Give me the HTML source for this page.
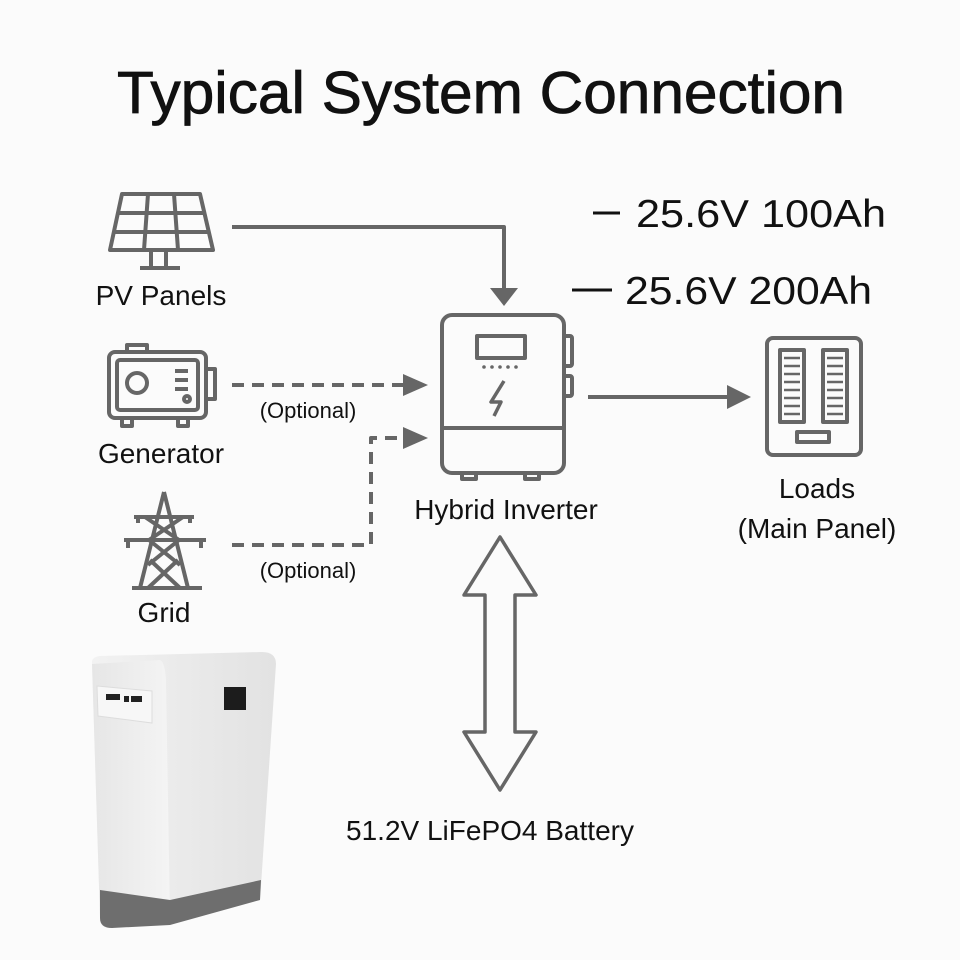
<!DOCTYPE html>
<html><head><meta charset="utf-8"><style>
html,body{margin:0;padding:0;background:#fbfbfb;}
svg{display:block}
text{font-family:"Liberation Sans",sans-serif;fill:#111}
</style></head><body>
<svg width="960" height="960" viewBox="0 0 960 960" xmlns="http://www.w3.org/2000/svg">
<defs>
<linearGradient id="bf" x1="0" x2="1"><stop offset="0" stop-color="#f2f2f2"/><stop offset="1" stop-color="#e2e2e2"/></linearGradient>
<linearGradient id="bs" x1="0" x2="1"><stop offset="0" stop-color="#e6e6e6"/><stop offset="1" stop-color="#f4f4f4"/></linearGradient>
</defs>
<rect width="960" height="960" fill="#fbfbfb"/>
<text x="481" y="113" font-size="59" text-anchor="middle" textLength="728" lengthAdjust="spacingAndGlyphs" stroke="#111" stroke-width="0.8">Typical System Connection</text>

<g stroke="#666" fill="none" stroke-width="4" stroke-linejoin="round">
<path d="M122 194 L200 194 L213 250 L110 250 Z"/>
<path d="M118 213 L204 213 M114 232 L209 232 M148 194 L144 250 M174 194 L178 250"/>
<path d="M151 250 V268 M166 250 V268 M140 268 H180"/>
<path d="M232 227 H504 V290"/>
<rect x="109" y="352" width="97" height="66" rx="6"/>
<rect x="117" y="360" width="81" height="50" rx="3"/>
<rect x="127" y="345" width="20" height="7"/>
<rect x="206" y="369" width="9" height="30"/>
<circle cx="137" cy="383" r="10"/>
<path d="M175 371 H188 M175 380 H188 M175 389 H188"/>
<circle cx="187" cy="399" r="3"/>
<path d="M122 418 v8 h10 v-8 M178 418 v8 h10 v-8"/>
<path d="M164 492 L140 588 M164 492 L188 588 M132 588 H202 M134 517 H194 M124 540 H206 M145 517 L179 540 L148 565 M183 517 L149 540 L180 565 M150 560 L180 588 M178 560 L148 588"/>
<path d="M138 517 v6 M190 517 v6 M128 540 v8 M201 540 v8"/>
<path d="M232 385 H404" stroke-dasharray="12 8"/>
<path d="M232 545 H371 V438 H404" stroke-dasharray="12 8"/>
<rect x="442" y="315" width="122" height="158" rx="10"/>
<rect x="477" y="336" width="48" height="22"/>
<path d="M442 428 H564"/>
<rect x="564" y="336" width="8" height="30" rx="2"/>
<rect x="564" y="376" width="8" height="20" rx="2"/>
<path d="M462 473 v6 h14 v-6 M525 473 v6 h14 v-6"/>
<path d="M504 381 L491 402 H501 L494 416" stroke-width="3.5"/>
<path d="M588 397 H728"/>
<rect x="767" y="338" width="94" height="117" rx="6"/>
<rect x="780" y="350" width="24" height="72"/>
<rect x="823" y="350" width="24" height="72"/>
<rect x="797" y="432" width="32" height="10"/>
<path d="M784 358 h16 M784 366 h16 M784 374 h16 M784 382 h16 M784 390 h16 M784 398 h16 M784 406 h16 M784 414 h16 M827 358 h16 M827 366 h16 M827 374 h16 M827 382 h16 M827 390 h16 M827 398 h16 M827 406 h16 M827 414 h16" stroke-width="2.5"/>
<path d="M500 537 L536 595 L515 595 L515 732 L536 732 L500 790 L464 732 L485 732 L485 595 L464 595 Z" stroke-width="3.5"/>
</g>
<g fill="#666">
<path d="M490 288 L518 288 L504 306 Z"/>
<path d="M403 374 L428 385 L403 396 Z"/>
<path d="M403 427 L428 438 L403 449 Z"/>
<path d="M727 385 L751 397 L727 409 Z"/>
<circle cx="484" cy="367" r="1.8"/><circle cx="492" cy="367" r="1.8"/><circle cx="500" cy="367" r="1.8"/><circle cx="508" cy="367" r="1.8"/><circle cx="516" cy="367" r="1.8"/>
</g>
<g stroke="#111" stroke-width="3"><path d="M593 213 H620 M572 290 H612"/></g>

<text x="161" y="305" font-size="28" text-anchor="middle">PV Panels</text>
<text x="161" y="463" font-size="28" text-anchor="middle">Generator</text>
<text x="164" y="622" font-size="28" text-anchor="middle">Grid</text>
<text x="308" y="418" font-size="22" text-anchor="middle" fill="#222">(Optional)</text>
<text x="308" y="578" font-size="22" text-anchor="middle" fill="#222">(Optional)</text>
<text x="506" y="519" font-size="28" text-anchor="middle">Hybrid Inverter</text>
<text x="817" y="498" font-size="28" text-anchor="middle">Loads</text>
<text x="817" y="538" font-size="28" text-anchor="middle">(Main Panel)</text>
<text x="636" y="227" font-size="39" textLength="250" lengthAdjust="spacingAndGlyphs">25.6V 100Ah</text>
<text x="625" y="304" font-size="39" textLength="247" lengthAdjust="spacingAndGlyphs">25.6V 200Ah</text>
<text x="490" y="840" font-size="28" text-anchor="middle">51.2V LiFePO4 Battery</text>

<g>
<path d="M92 662 Q92 657 100 656 L262 652 Q276 652 276 664 L260 900 L110 928 Q100 928 100 918 Z" fill="url(#bf)"/>
<path d="M92 664 L160 660 Q165 662 166 680 L170 916 L110 928 Q100 928 100 918 Z" fill="url(#bs)"/>
<path d="M100 890 L170 900 L261 880 L260 900 L170 925 L112 928 Q100 928 100 918 Z" fill="#6e6e6e"/>
<path d="M97 686 L152 691 L152 723 L98 716 Z" fill="#f7f7f7" stroke="#ddd"/>
<rect x="106" y="694" width="14" height="6" fill="#222"/>
<rect x="124" y="696" width="5" height="6" fill="#222"/>
<rect x="131" y="696" width="11" height="6" fill="#222"/>
<rect x="224" y="687" width="22" height="23" fill="#1c1c1c"/>
</g>
</svg>
</body></html>
